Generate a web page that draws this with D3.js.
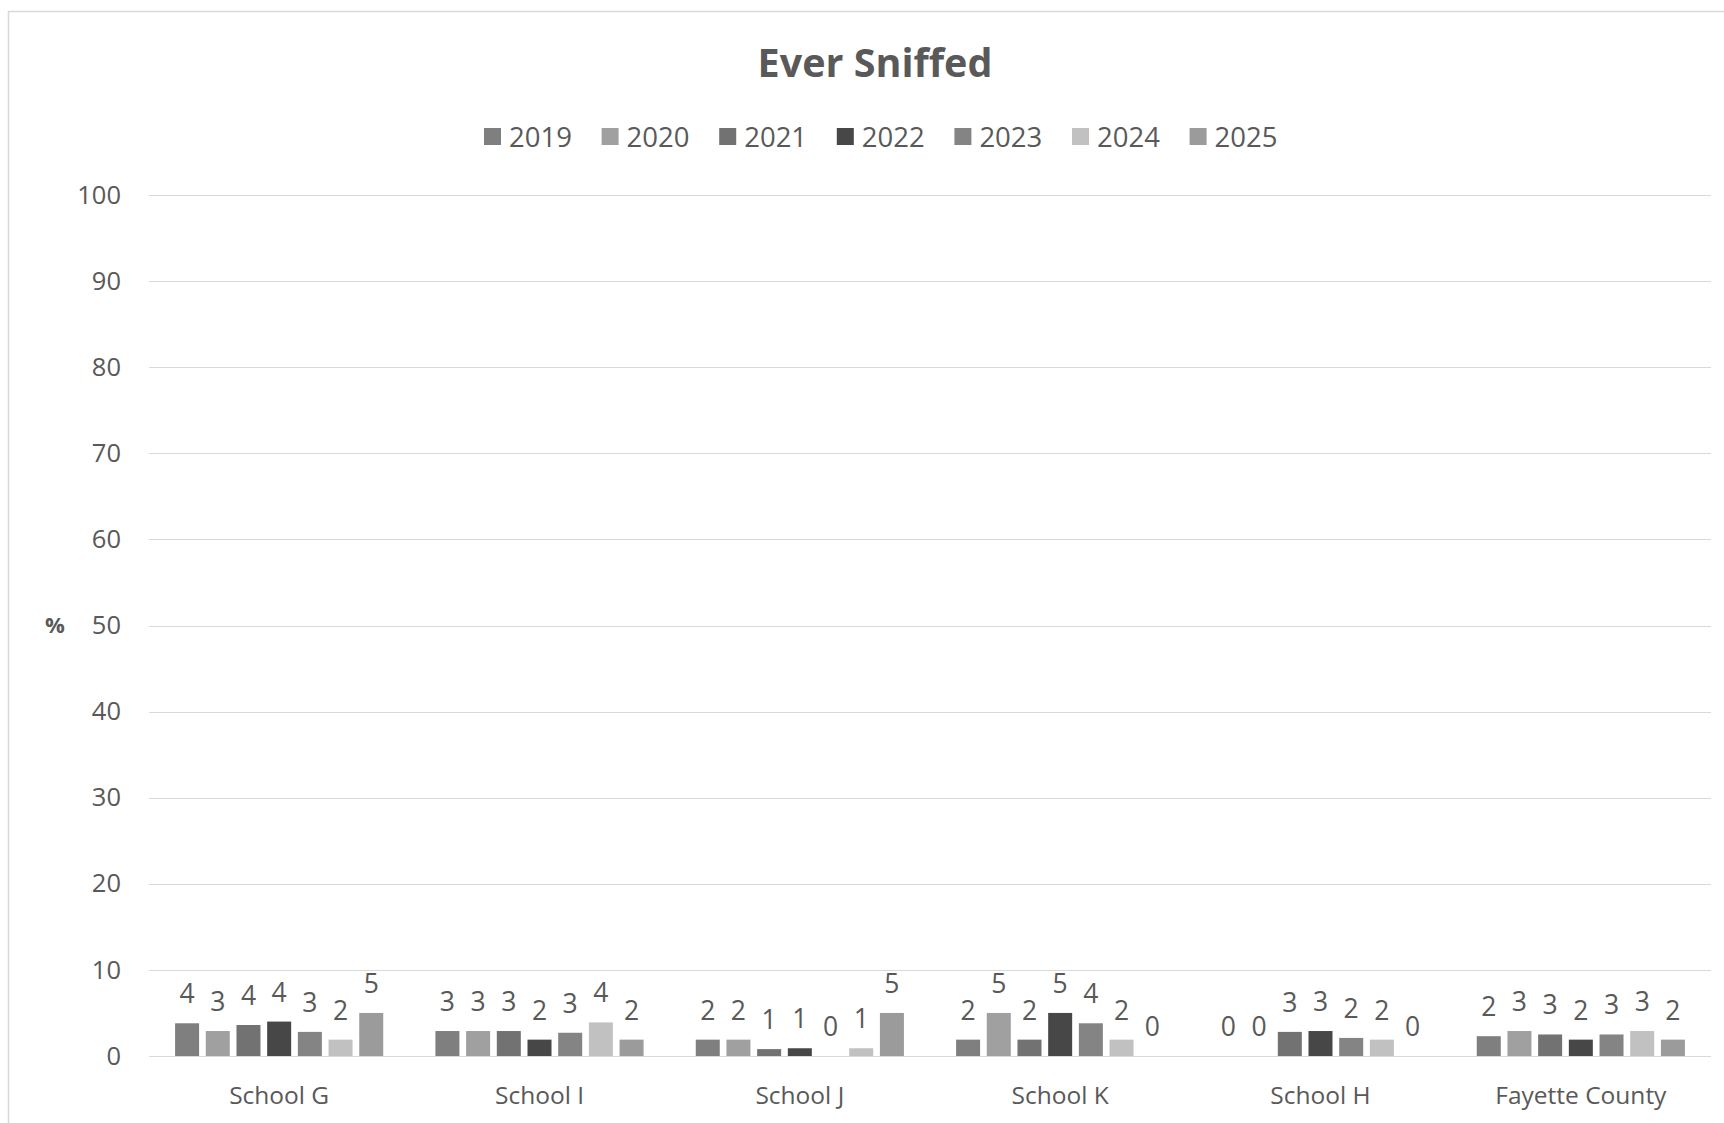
<!DOCTYPE html>
<html>
<head>
<meta charset="utf-8">
<script src="https://cdn.jsdelivr.net/npm/d3@7"></script>
<style>
  html, body { margin: 0; padding: 0; background: #fff; }
  svg { display: block; }
  text { font-family: "Open Sans", "Liberation Sans", sans-serif; fill: #595959; }
</style>
</head>
<body>
<svg id="chart" width="1724" height="1123"></svg>
<script>
const categories = ["School G", "School I", "School J", "School K", "School H", "Fayette County"];
const years = ["2019", "2020", "2021", "2022", "2023", "2024", "2025"];
const values2019 = [3.8, 2.9, 1.9, 1.9, 0, 2.3];
const values2020 = [2.9, 2.9, 1.9, 5.0, 0, 2.9];
const values2021 = [3.6, 2.9, 0.8, 1.9, 2.8, 2.5];
const values2022 = [4.0, 1.9, 0.9, 5.0, 2.9, 1.9];
const values2023 = [2.8, 2.7, 0, 3.8, 2.1, 2.5];
const values2024 = [1.9, 3.9, 0.9, 1.9, 1.9, 2.9];
const values2025 = [5.0, 1.9, 5.0, 0, 0, 1.9];
const yTicks = [0, 10, 20, 30, 40, 50, 60, 70, 80, 90, 100];
const colors = ["#7f7f7f", "#a0a0a0", "#727272", "#474747", "#848484", "#c1c1c1", "#9b9b9b"];

const seriesValues = [values2019, values2020, values2021, values2022, values2023, values2024, values2025];
const data = categories.map((c, i) => ({
  category: c,
  values: years.map((yr, j) => ({ year: yr, value: seriesValues[j][i], color: colors[j] }))
}));

const svg = d3.select("#chart");

// outer border (top and left visible)
svg.append("line").attr("x1", 8.5).attr("x2", 8.5).attr("y1", 11).attr("y2", 1123)
  .attr("stroke", "#d9d9d9").attr("stroke-width", 1.5);
svg.append("line").attr("x1", 8).attr("x2", 1724).attr("y1", 11.5).attr("y2", 11.5)
  .attr("stroke", "#d9d9d9").attr("stroke-width", 1.5);

const plotLeft = 149, plotRight = 1711, plotTop = 195, plotBottom = 1056;

const y = d3.scaleLinear().domain([0, 100]).range([plotBottom, plotTop]);
const x0 = d3.scaleBand().domain(categories).range([plotLeft, plotRight]).padding(0);
const x1 = d3.scaleBand().domain(years).range([0, x0.bandwidth()])
  .paddingInner(0.218).paddingOuter(0.85);

// gridlines
svg.append("g").selectAll("line").data(yTicks).join("line")
  .attr("x1", plotLeft).attr("x2", plotRight)
  .attr("y1", d => Math.round(y(d)) + 0.5).attr("y2", d => Math.round(y(d)) + 0.5)
  .attr("stroke", "#d9d9d9").attr("stroke-width", 1.2);

// y axis labels
const yAxis = d3.axisLeft(y).tickValues(yTicks).tickSize(0).tickPadding(0);
const gy = svg.append("g").attr("transform", `translate(121,0)`).call(yAxis);
gy.select(".domain").remove();
gy.selectAll("text").attr("font-size", 25.5).attr("fill", "#595959")
  .style("font-family", '"Open Sans", sans-serif');

// y axis title
svg.append("text").attr("x", 55).attr("y", y(50)).attr("dy", "0.36em")
  .attr("text-anchor", "middle").attr("font-size", 22).attr("font-weight", 700)
  .text("%");

// bars
const groups = svg.append("g").selectAll("g").data(data).join("g")
  .attr("transform", d => `translate(${x0(d.category)},0)`);

groups.selectAll("rect").data(d => d.values).join("rect")
  .attr("x", d => x1(d.year))
  .attr("width", x1.bandwidth())
  .attr("y", d => y(d.value))
  .attr("height", d => plotBottom - y(d.value))
  .attr("fill", d => d.color);

groups.selectAll("text.lbl").data(d => d.values).join("text")
  .attr("class", "lbl")
  .attr("x", d => x1(d.year) + x1.bandwidth() / 2)
  .attr("y", d => y(d.value) - 20)
  .attr("text-anchor", "middle")
  .attr("font-size", 26.5)
  .text(d => Math.round(d.value));

// x axis labels
const xAxis = d3.axisBottom(x0).tickSize(0).tickPadding(0);
const gx = svg.append("g").attr("transform", `translate(0,${plotBottom})`).call(xAxis);
gx.select(".domain").remove();
gx.selectAll("text").attr("font-size", 24.5).attr("fill", "#595959")
  .attr("dy", 0).attr("y", 48)
  .style("font-family", '"Open Sans", sans-serif');

// title
svg.append("text").attr("x", 875).attr("y", 77).attr("text-anchor", "middle")
  .attr("font-size", 39.5).attr("font-weight", 700).text("Ever Sniffed");

// legend
const legendX = d3.scaleBand().domain(years).range([484, 484 + 117.6 * 7]);
const lg = svg.append("g").selectAll("g").data(years).join("g")
  .attr("transform", d => `translate(${legendX(d)},0)`);
lg.append("rect").attr("x", 0).attr("y", 128).attr("width", 17).attr("height", 17)
  .attr("fill", (d, i) => colors[i]);
lg.append("text").attr("x", 25).attr("y", 147).attr("font-size", 27.5).text(d => d);
</script>
</body>
</html>
